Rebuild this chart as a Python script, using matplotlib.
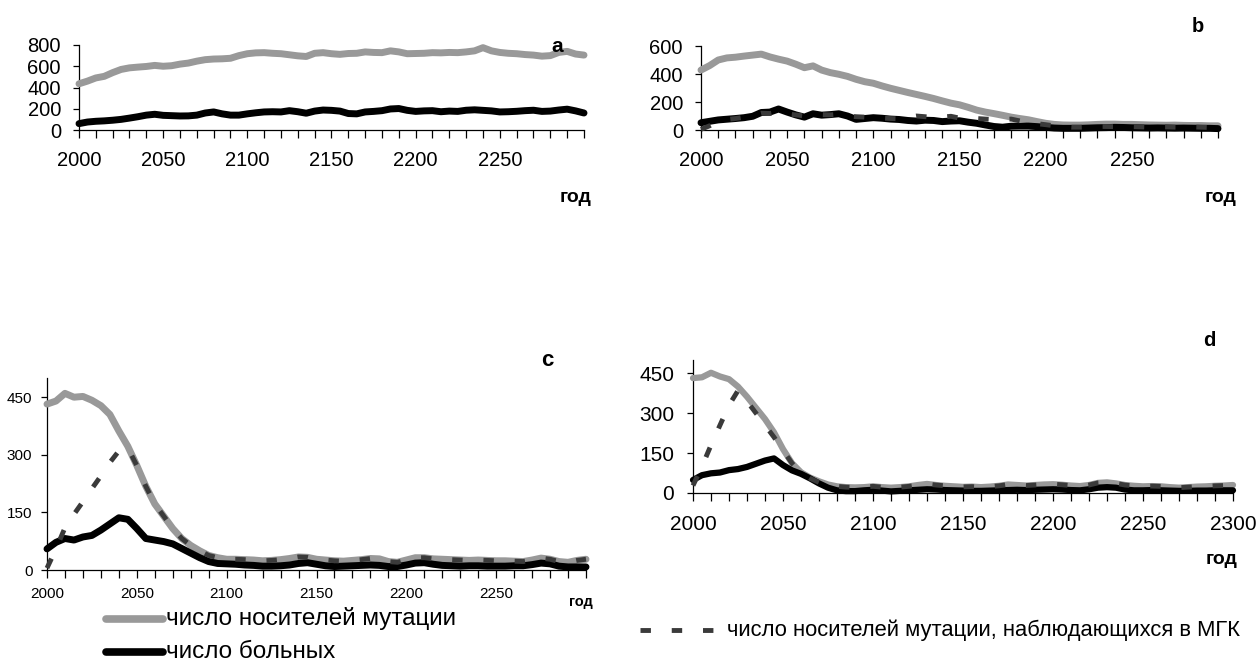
import matplotlib
matplotlib.use("Agg")
import matplotlib.pyplot as plt
from matplotlib.lines import Line2D

plt.rcParams['font.family'] = ['Liberation Sans', 'DejaVu Sans']
plt.rcParams['lines.scale_dashes'] = False

years = list(range(2000, 2301, 5))

carriers_a = [435, 460, 490, 505, 540, 570, 585, 592, 598, 608,
              600, 605, 620, 630, 648, 662, 668, 670, 675, 700,
              718, 726, 728, 722, 718, 708, 698, 692, 722, 728,
              718, 712, 720, 722, 735, 730, 728, 745, 735, 718,
              720, 722, 728, 726, 730, 728, 735, 745, 775, 745,
              730, 722, 718, 710, 705, 695, 700, 730, 740, 715,
              705]
patients_a = [60, 75, 82, 86, 92, 100, 112, 125, 140, 148,
              138, 135, 132, 133, 140, 160, 170, 152, 140, 140,
              152, 162, 170, 172, 170, 182, 172, 158, 178, 188,
              185, 178, 155, 152, 170, 175, 182, 198, 202, 185,
              175, 180, 182, 172, 178, 175, 186, 190, 185, 180,
              170, 172, 176, 182, 186, 175, 178, 188, 196, 180,
              160]

carriers_b = [428, 460, 500, 515, 520, 528, 535, 542, 522, 506,
              492, 470, 445, 458, 428, 410, 398, 383, 362, 345,
              334, 315, 298, 283, 268, 254, 240, 225, 208, 192,
              180, 162, 142, 128, 117, 105, 92, 82, 73, 60,
              48, 40, 36, 35, 35, 37, 40, 42, 42, 40,
              40, 38, 36, 35, 34, 35, 33, 32, 32, 30,
              30]
patients_b = [52, 62, 72, 77, 82, 88, 98, 125, 128, 150,
              128, 108, 92, 116, 106, 110, 116, 100, 76, 82,
              88, 84, 78, 75, 68, 64, 70, 68, 60, 64,
              66, 56, 48, 36, 25, 20, 27, 28, 28, 24,
              19, 14, 12, 12, 12, 14, 16, 17, 19, 18,
              16, 15, 14, 15, 14, 13, 14, 13, 12, 12,
              10]
mgk_b = [5, 30, 60, 75, 82, 92, 105, 120, 118, 130,
         115, 108, 100, 108, 110, 108, 112, 100, 95, 92,
         90, 85, 82, 80, 90, 100, 95, 88, 92, 98,
         85, 80, 82, 78, 75, 76, 78, 65, 55, 45,
         38, 30, 25, 20, 20, 22, 25, 25, 24, 22,
         24, 22, 20, 22, 22, 20, 20, 22, 20, 18,
         18]

carriers_c = [432, 440, 460, 450, 452, 442, 428, 405, 362, 322,
              272, 218, 172, 140, 108, 82, 64, 50, 38, 32,
              28, 28, 27, 26, 24, 25, 27, 30, 34, 33,
              28, 26, 24, 23, 25, 27, 30, 29, 22, 20,
              26, 32, 32, 29, 28, 27, 26, 25, 26, 25,
              24, 24, 23, 22, 26, 31, 28, 22, 20, 25,
              28]
patients_c = [55, 72, 82, 78, 86, 90, 104, 120, 136, 132,
              108, 82, 78, 74, 68, 56, 44, 32, 22, 17,
              16, 15, 13, 12, 10, 10, 11, 13, 17, 19,
              15, 11, 9, 10, 11, 12, 13, 12, 9, 9,
              13, 18, 19, 15, 12, 11, 10, 11, 11, 10,
              10, 10, 11, 11, 14, 18, 16, 10, 8, 8,
              8]
mgk_c = [5, 55, 110, 145, 178, 212, 245, 280, 310, 318] + carriers_c[10:]

carriers_d = [432, 435, 452, 438, 428, 400, 362, 320, 278, 228,
              165, 112, 78, 58, 44, 32, 25, 22, 21, 22,
              25, 22, 20, 22, 25, 30, 34, 30, 27, 25,
              23, 24, 22, 24, 27, 32, 30, 28, 30, 32,
              33, 31, 28, 26, 30, 38, 40, 36, 30, 27,
              25, 26, 25, 22, 20, 22, 24, 25, 27, 28,
              30]
patients_d = [49, 67, 74, 77, 86, 90, 98, 110, 122, 130,
              105, 85, 72, 55, 36, 20, 10, 7, 7, 10,
              12, 9, 6, 8, 10, 12, 14, 13, 11, 10,
              9, 8, 8, 9, 10, 11, 12, 11, 12, 13,
              14, 13, 11, 10, 14, 20, 22, 20, 13, 10,
              10, 11, 10, 9, 8, 8, 9, 9, 10, 10,
              10]
mgk_d = [28, 100, 180, 255, 330, 385, 345, 300, 255, 210,
         160, 112, 76, 55, 40, 28] + carriers_d[16:]

legend_labels = ["число носителей мутации", "число больных",
                 "число носителей мутации, наблюдающихся в МГК"]
panel_letters = ["a", "b", "c", "d"]
xlabel_text = "год"

GRAY = "#999999"
DARK = "#3a3a3a"

W, H = 1257, 664
fig = plt.figure(figsize=(W / 100, H / 100), dpi=100)


def rect(l, r, t, b):
    return [l / W, 1 - b / H, (r - l) / W, (b - t) / H]


def panel(r, ymax, ystep, carriers, patients, mgk, fs, xpad, ypad, last_label,
          letter, letter_xy, letter_fs, god_xy, god_fs, lw, dlw):
    ax = fig.add_axes(rect(*r))
    ax.plot(years, carriers, color=GRAY, lw=lw, solid_capstyle='round', clip_on=False, zorder=3)
    ax.plot(years, patients, color="black", lw=lw, solid_capstyle='round', clip_on=False, zorder=4)
    if mgk is not None:
        ax.plot(years, mgk, color=DARK, lw=dlw, dashes=(7.5, 15), dash_capstyle='butt',
                clip_on=False, zorder=5)
    ax.set_xlim(2000, 2300)
    ax.set_ylim(0, ymax)
    ticks = list(range(2000, 2301, 10))
    ax.set_xticks(ticks)
    labs = []
    for t in ticks:
        if t % 50 == 0 and (t < 2300 or last_label):
            labs.append(str(t))
        else:
            labs.append("")
    ax.set_xticklabels(labs)
    ax.set_yticks(list(range(0, int(ymax) + 1, ystep)))
    for s in ['top', 'right']:
        ax.spines[s].set_visible(False)
    for s in ['left', 'bottom']:
        ax.spines[s].set_linewidth(0.9)
    ax.tick_params(axis='x', direction='out', length=5.5, width=0.9, labelsize=fs, pad=xpad)
    ax.tick_params(axis='y', direction='out', length=4, width=0.9, labelsize=fs, pad=ypad)
    fig.text(letter_xy[0] / W, 1 - letter_xy[1] / H, letter, fontsize=letter_fs,
             fontweight='bold', ha='center', va='center')
    fig.text(god_xy[0] / W, 1 - god_xy[1] / H, xlabel_text, fontsize=god_fs,
             fontweight='bold', ha='center', va='center')
    return ax


panel((79, 584, 45, 130), 800, 200, carriers_a, patients_a, None, 14.5, 9.5, 9, False,
      panel_letters[0], (557, 46), 15, (576, 197), 14, 5.0, 3.5)
panel((701, 1218, 46, 130), 600, 200, carriers_b, patients_b, mgk_b, 14.5, 9.5, 9, False,
      panel_letters[1], (1198, 27), 14.5, (1221, 198), 14, 5.0, 3.5)
panel((47, 586, 378, 570), 500, 150, carriers_c, patients_c, mgk_c, 11, 7, 6.5, False,
      panel_letters[2], (547, 361), 16, (581, 602), 10.5, 5.0, 3.5)
panel((693, 1233, 360, 493), 500, 150, carriers_d, patients_d, mgk_d, 15, 10, 9.5, True,
      panel_letters[3], (1209, 341), 14.5, (1222, 560), 14, 4.5, 3.5)

# legend (drawn in figure pixel coordinates)
fig.add_artist(Line2D([106 / W, 163 / W], [1 - 619 / H, 1 - 619 / H], color=GRAY, lw=5.5,
                      solid_capstyle='round'))
fig.add_artist(Line2D([106 / W, 163 / W], [1 - 652 / H, 1 - 652 / H], color="black", lw=5.5,
                      solid_capstyle='round'))
fig.text(166 / W, 1 - 619 / H, legend_labels[0], fontsize=17.5, ha='left', va='center')
fig.text(166 / W, 1 - 652 / H, legend_labels[1], fontsize=17.5, ha='left', va='center')
fig.add_artist(Line2D([640 / W, 713 / W], [1 - 630 / H, 1 - 630 / H], color=DARK, lw=3.5,
                      dashes=(7.5, 15), dash_capstyle='butt'))
fig.text(727 / W, 1 - 630 / H, legend_labels[2], fontsize=15.8, ha='left', va='center')

fig.savefig("out.png", dpi=100)
